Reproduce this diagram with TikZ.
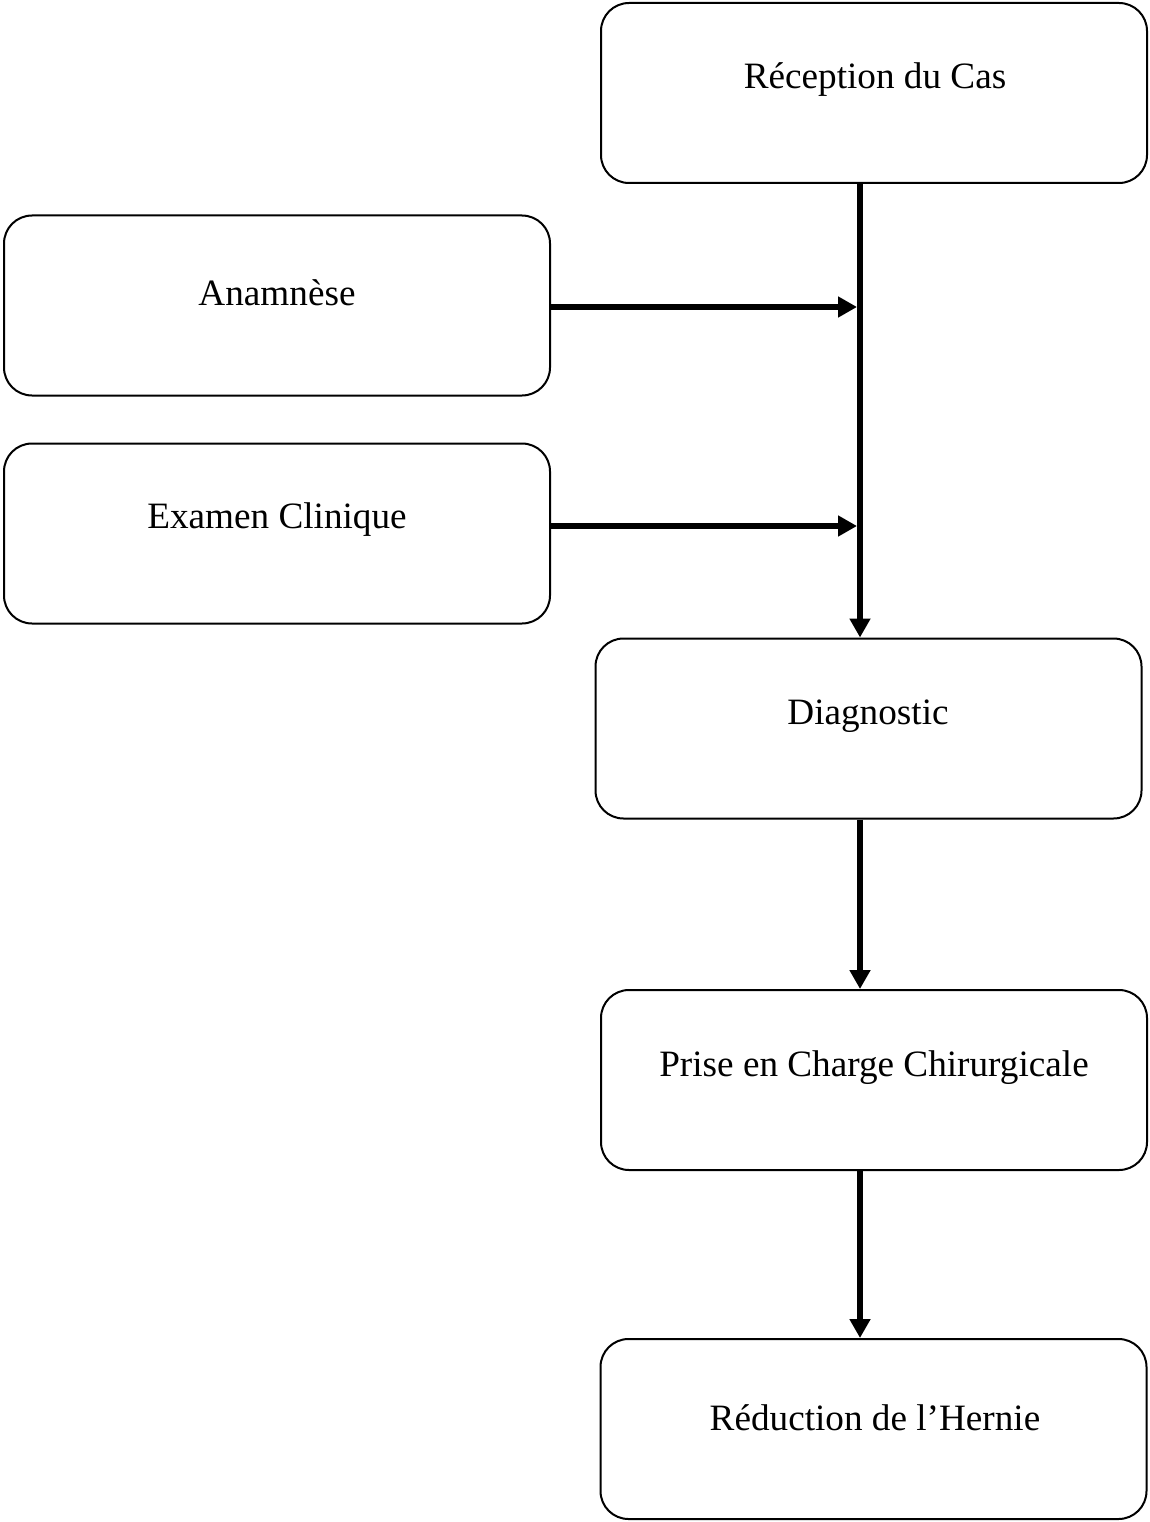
\documentclass[tikz,border=0pt]{standalone}
\usepackage{fontspec}
\setmainfont{Liberation Serif}
\usetikzlibrary{arrows.meta}
\begin{document}
\begin{tikzpicture}[x=1pt,y=-1pt,
  box/.style={draw, line width=2pt, rounded corners=28pt, minimum width=546pt, minimum height=180pt, inner sep=0pt},
  lbl/.style={font=\fontsize{37.2}{44}\selectfont, inner sep=0pt, anchor=center},
  conn/.style={line width=6pt, -{Triangle[length=19pt,width=20pt]}}]
\useasboundingbox[fill=white] (0,0) rectangle (1149,1522);
\node[box] (rec) at (874,93) {};
\node[box] (ana) at (277,305.5) {};
\node[box] (exa) at (277,533.5) {};
\node[box] (dia) at (868.5,728.5) {};
\node[box] (pri) at (874,1080) {};
\node[box] (red) at (873.5,1429) {};
\node[lbl] (trec) at (875,80) {Réception du Cas};
\node[lbl] (tana) at (277,293) {Anamnèse};
\node[lbl] (texa) at (277,520) {Examen Clinique};
\node[lbl] (tdia) at (868,716) {Diagnostic};
\node[lbl] (tpri) at (874,1068) {Prise en Charge Chirurgicale};
\node[lbl] (tred) at (875,1418) {Réduction de l’Hernie};
\coordinate (j1) at (857,307);
\coordinate (j2) at (857,526);
\coordinate (vx) at (860,0);
\draw[conn] (rec.south -| vx) -- (dia.north -| vx);
\draw[conn] (ana.east |- j1) -- (j1);
\draw[conn] (exa.east |- j2) -- (j2);
\draw[conn] (dia.south -| vx) -- (pri.north -| vx);
\draw[conn] (pri.south -| vx) -- (red.north -| vx);
\end{tikzpicture}
\end{document}
